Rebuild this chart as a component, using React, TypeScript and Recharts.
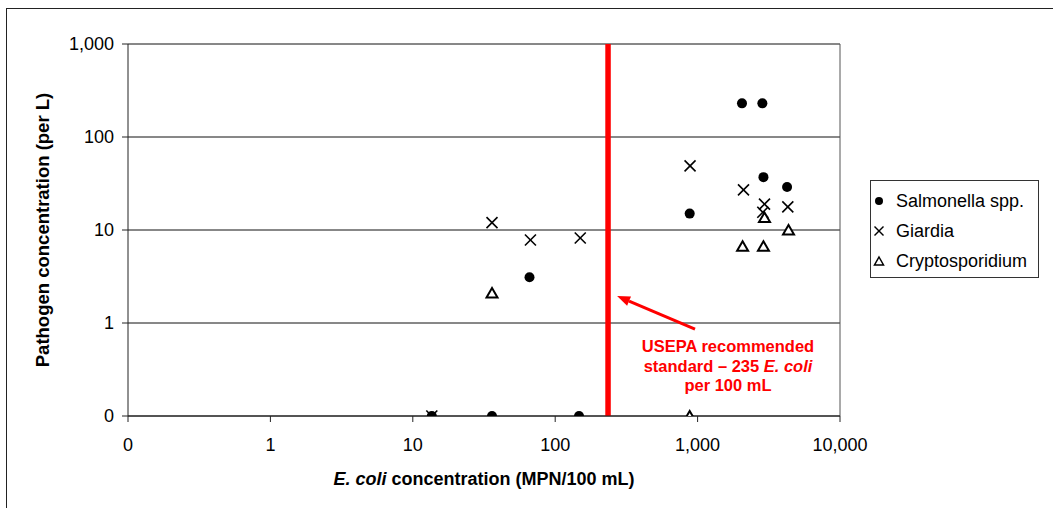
import React from "react";
import {
  ScatterChart,
  Scatter,
  XAxis,
  YAxis,
  CartesianGrid,
  ReferenceLine,
  Label,
} from "recharts";

// log axes start at 0.1, which the tick labels show as "0"
const ZERO = 0.1;

const X_TICKS = [ZERO, 1, 10, 100, 1000, 10000];
const Y_TICKS = [ZERO, 1, 10, 100, 1000];

const salmonellaX = [13.6, 36, 66, 147, 880, 2050, 2850, 2900, 4250];
const salmonellaY = [ZERO, ZERO, 3.1, ZERO, 15, 230, 230, 37, 29];

const giardiaX = [13.6, 36, 67, 150, 885, 2100, 2950, 2870, 4300];
const giardiaY = [ZERO, 12, 7.8, 8.2, 49, 27, 19, 15.5, 17.7];

const cryptoX = [36, 880, 2070, 2900, 2950, 4350];
const cryptoY = [2.1, ZERO, 6.7, 6.7, 13.6, 10];

const USEPA_STANDARD = 235;
// arrow from the note to the standard line (data coordinates)
const ARROW_FROM = { x: 959, y: 0.86 };
const ARROW_TO = { x: 272, y: 1.95 };

const FONT = '"Liberation Sans", Arial, Helvetica, sans-serif';
const RED = "#ff0000";

const toPoints = (xs: number[], ys: number[]) =>
  xs.map((x, i) => ({ x, y: ys[i] }));

const fmtTick = (v: number) => (v < 1 ? "0" : v.toLocaleString("en-US"));

const Dot = (p: any) => <circle cx={p.cx} cy={p.cy} r={5} fill="#000" />;

const Cross = (p: any) => (
  <g stroke="#000" strokeWidth={1.6}>
    <line x1={p.cx - 5.5} y1={p.cy - 5.5} x2={p.cx + 5.5} y2={p.cy + 5.5} />
    <line x1={p.cx - 5.5} y1={p.cy + 5.5} x2={p.cx + 5.5} y2={p.cy - 5.5} />
  </g>
);

const Tri = (p: any) => (
  <polygon
    points={`${p.cx},${p.cy - 5} ${p.cx + 5.5},${p.cy + 4.5} ${p.cx - 5.5},${p.cy + 4.5}`}
    fill="#fff"
    stroke="#000"
    strokeWidth={2}
  />
);

// arrow plus the red note under its tail
const ArrowNote = (p: any) => {
  const { x1, y1, x2, y2 } = p;
  const ang = Math.atan2(y2 - y1, x2 - x1);
  const len = 13;
  const half = 5;
  const bx = x2 - len * Math.cos(ang);
  const by = y2 - len * Math.sin(ang);
  const nx = -Math.sin(ang) * half;
  const ny = Math.cos(ang) * half;
  const tx = x1 + 33;
  return (
    <g>
      <line x1={x1} y1={y1} x2={bx} y2={by} stroke={RED} strokeWidth={3} />
      <polygon
        points={`${x2},${y2} ${bx + nx},${by + ny} ${bx - nx},${by - ny}`}
        fill={RED}
      />
      <text
        x={tx}
        textAnchor="middle"
        fill={RED}
        fontFamily={FONT}
        fontWeight="bold"
        fontSize={16.5}
      >
        <tspan x={tx} y={y1 + 23}>USEPA recommended</tspan>
        <tspan x={tx} y={y1 + 43}>
          standard – 235 <tspan fontStyle="italic">E. coli</tspan>
        </tspan>
        <tspan x={tx} y={y1 + 62}>per 100 mL</tspan>
      </text>
    </g>
  );
};

const legendItems = [
  { name: "Salmonella spp.", marker: "dot" },
  { name: "Giardia", marker: "cross" },
  { name: "Cryptosporidium", marker: "tri" },
];

const LegendMarker = ({ kind }: { kind: string }) => (
  <svg width={14} height={14} style={{ display: "block" }}>
    {kind === "dot" && <circle cx={7} cy={7} r={4} fill="#000" />}
    {kind === "cross" && (
      <g stroke="#000" strokeWidth={1.4}>
        <line x1={2.5} y1={2.5} x2={11.5} y2={11.5} />
        <line x1={2.5} y1={11.5} x2={11.5} y2={2.5} />
      </g>
    )}
    {kind === "tri" && (
      <polygon points="7,3 11.5,11 2.5,11" fill="#fff" stroke="#000" strokeWidth={1.5} />
    )}
  </svg>
);

export default function App() {
  const salmonella = toPoints(salmonellaX, salmonellaY);
  const giardia = toPoints(giardiaX, giardiaY);
  const crypto = toPoints(cryptoX, cryptoY);

  return (
    <div
      style={{
        position: "fixed",
        left: 0,
        top: 0,
        width: 1053,
        height: 508,
        overflow: "hidden",
        background: "#fff",
        fontFamily: FONT,
      }}
    >
      {/* outer frame, runs off the right and bottom edges */}
      <div
        style={{
          position: "absolute",
          left: 6,
          top: 8,
          width: 1100,
          height: 600,
          border: "1.3px solid #222",
        }}
      />
      <div style={{ position: "absolute", left: 0, top: 0.5 }}>
        <ScatterChart
          width={1053}
          height={508}
          margin={{ top: 43, right: 213, bottom: 0, left: 0 }}
        >
          <CartesianGrid vertical={false} stroke="#111" strokeWidth={1} />
          <XAxis
            type="number"
            dataKey="x"
            scale="log"
            domain={[ZERO, 10000]}
            ticks={X_TICKS}
            interval={0}
            allowDataOverflow
            tickFormatter={fmtTick}
            height={93}
            tickSize={6}
            tickMargin={16}
            stroke="#222"
            tick={{ fill: "#000", fontSize: 18, fontFamily: FONT }}
          >
            <Label
              content={(props: any) => {
                const vb = props.viewBox;
                return (
                  <text
                    x={vb.x + vb.width / 2}
                    y={vb.y + 69}
                    textAnchor="middle"
                    fontFamily={FONT}
                    fontWeight="bold"
                    fontSize={18}
                    fill="#000"
                  >
                    <tspan fontStyle="italic">E. coli</tspan> concentration (MPN/100 mL)
                  </text>
                );
              }}
            />
          </XAxis>
          <YAxis
            type="number"
            dataKey="y"
            scale="log"
            domain={[ZERO, 1000]}
            ticks={Y_TICKS}
            interval={0}
            allowDataOverflow
            tickFormatter={fmtTick}
            width={128}
            tickSize={6}
            tickMargin={8}
            stroke="#222"
            tick={{ fill: "#000", fontSize: 18, fontFamily: FONT }}
          >
            <Label
              content={(props: any) => {
                const vb = props.viewBox;
                const cx = vb.x + 42;
                const cy = vb.y + vb.height / 2;
                return (
                  <text
                    x={cx}
                    y={cy}
                    transform={`rotate(-90 ${cx} ${cy})`}
                    textAnchor="middle"
                    dominantBaseline="central"
                    fontFamily={FONT}
                    fontWeight="bold"
                    fontSize={18.5}
                    fill="#000"
                  >
                    Pathogen concentration (per L)
                  </text>
                );
              }}
            />
          </YAxis>
          {/* right edge of the plot area */}
          <ReferenceLine x={10000} stroke="#555" strokeWidth={1} />
          <ReferenceLine x={USEPA_STANDARD} stroke={RED} strokeWidth={5.5} />
          <ReferenceLine segment={[ARROW_FROM, ARROW_TO]} shape={ArrowNote} />
          <Scatter
            name="Salmonella spp."
            data={salmonella}
            shape={Dot}
            isAnimationActive={false}
          />
          <Scatter
            name="Giardia"
            data={giardia}
            shape={Cross}
            isAnimationActive={false}
          />
          <Scatter
            name="Cryptosporidium"
            data={crypto}
            shape={Tri}
            isAnimationActive={false}
          />
        </ScatterChart>
      </div>
      <div
        style={{
          position: "absolute",
          left: 870,
          top: 180,
          width: 169,
          height: 98,
          boxSizing: "border-box",
          border: "1px solid #333",
          background: "#fff",
          paddingTop: 5,
        }}
      >
        {legendItems.map((it) => (
          <div
            key={it.name}
            style={{
              display: "flex",
              alignItems: "center",
              height: 30,
              paddingLeft: 1,
              fontSize: 18,
              color: "#000",
              whiteSpace: "nowrap",
            }}
          >
            <LegendMarker kind={it.marker} />
            <span style={{ marginLeft: 10 }}>{it.name}</span>
          </div>
        ))}
      </div>
    </div>
  );
}
